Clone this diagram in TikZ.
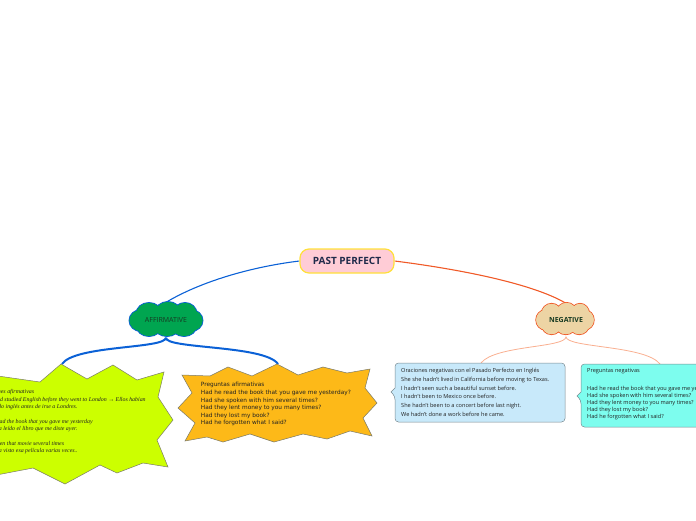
\documentclass[tikz,border=0pt]{standalone}
\usepackage{fontspec}
\setmainfont{Open Sans}
\newfontfamily\burstfont{DejaVu Sans}
\newfontfamily\italfont{Liberation Serif}
\pgfdeclarelayer{bg}
\pgfsetlayers{bg,main}
\definecolor{titlefill}{HTML}{FFCCD6}
\definecolor{titleborder}{HTML}{FFE03A}
\definecolor{titletext}{HTML}{1F2A4A}
\definecolor{affgreen}{HTML}{00A550}
\definecolor{affblue}{HTML}{0B61D6}
\definecolor{negtan}{HTML}{EDD4A4}
\definecolor{negorange}{HTML}{F05A28}
\definecolor{negthin}{HTML}{F9AF90}
\definecolor{limefill}{HTML}{CCFF00}
\definecolor{amberfill}{HTML}{FDB918}
\definecolor{lightbluefill}{HTML}{C8E9FA}
\definecolor{cyanfill}{HTML}{7DFDEE}
\definecolor{burstgray}{HTML}{7A7A6A}
\definecolor{boxgray}{HTML}{7A8A90}
\definecolor{textdark}{HTML}{222222}
\definecolor{cloudtext}{HTML}{173A22}
\tikzset{
  rootnode/.style={rectangle, rounded corners=9pt, minimum width=94pt, minimum height=24pt,
    inner sep=0pt, fill=titlefill, draw=titleborder, line width=1.2pt,
    font=\bfseries\fontsize{10}{12}\selectfont, text=titletext},
  cloudlabel/.style={rectangle, inner sep=0pt, text=cloudtext, font=\fontsize{7}{8}\selectfont},
  puffcloud/.pic={
    \foreach \px/\py/\rx/\ry in {-17/-6/13/11, 2/-7/13/11, 19/-6/12/11, -25/1/12/11, 25/1/12/11,
        -17/6/13/11, 1/7/13/10, 18/6/13/11}
      \path[pic actions] (\px,\py) ellipse[x radius=\rx, y radius=\ry];
    \foreach \px/\py/\rx/\ry in {-17/-6/13/11, 2/-7/13/11, 19/-6/12/11, -25/1/12/11, 25/1/12/11,
        -17/6/13/11, 1/7/13/10, 18/6/13/11}
      \path[pic actions, draw=none] (\px,\py) ellipse[x radius=\rx-0.5, y radius=\ry-0.5];
  },
  burst/.style={draw=burstgray, line width=0.5pt},
  notebox/.style={draw=boxgray, line width=0.5pt},
  affconn/.style={draw=affblue, line width=1.1pt},
  affbranch/.style={draw=affblue, line width=2pt},
  negconn/.style={draw=negorange, line width=1.1pt},
  negbranch/.style={draw=negthin, line width=0.8pt},
  bodytext/.style={anchor=north west, inner sep=0pt, align=left, text=textdark}
}
\begin{document}
\begin{tikzpicture}[x=1pt,y=-1pt]
\useasboundingbox (0,0) rectangle (696,520);
\clip (0,0) rectangle (696,520);

% central node
\node[rootnode] (root) at (347,261) {PAST PERFECT};

% main branch clouds
\pic[fill=affgreen, draw=affblue, line width=0.9pt] at (166,319.5) {puffcloud};
\node[cloudlabel, minimum width=74pt, minimum height=35pt] (aff) at (166,320) {AFFIRMATIVE};
\pic[fill=negtan, draw=negorange, line width=0.9pt, xscale=0.79, yscale=0.92] at (565,319) {puffcloud};
\node[cloudlabel, font=\fontsize{7}{8}\selectfont\bfseries, minimum width=58pt, minimum height=33pt]
  (neg) at (566,320) {NEGATIVE};

% starbursts
\path[burst, fill=limefill] (-30,372) -- (40,382) -- (61,364) -- (87,379) -- (113,365)
  -- (137,380) -- (164,372) -- (158,397) -- (173,420) -- (157,440) -- (168,467)
  -- (143,463) -- (117,473) -- (100,465) -- (65,484) -- (33,468) -- (-30,480) -- cycle;
\coordinate (limetop) at (62,364);
\path[burst, fill=amberfill] (182,375) -- (210,376) -- (228,367) -- (252,376) -- (277,364)
  -- (298,375) -- (323,367) -- (347,373) -- (370,369) -- (365,388) -- (377,403)
  -- (363,418) -- (372,436) -- (350,431) -- (327,439) -- (303,434) -- (274,442)
  -- (250,434) -- (223,442) -- (207,437) -- (185,441) -- (195,423) -- (178,408)
  -- (192,393) -- cycle;
\coordinate (ambertop) at (278,364);

\node[bodytext, font=\italfont\itshape\fontsize{5.9}{7.4}\selectfont] (limetext) at (-19,389.3)
{Oraciones afirmativas\\
They had studied English before they went to London → Ellos habían\\
estudiado inglés antes de irse a Londres.\\[7.4pt]
I had read the book that you gave me yesterday\\
Yo había leído el libro que me diste ayer.\\[7.4pt]
I had seen that movie several times\\
Yo había visto esa película varias veces..};

\node[bodytext, font=\burstfont\fontsize{5.8}{7.6}\selectfont] (ambertext) at (200.7,382.2)
{Preguntas afirmativas\\
Had he read the book that you gave me yesterday?\\
Had she spoken with him several times?\\
Had they lent money to you many times?\\
Had they lost my book?\\
Had he forgotten what I said?};

% negative boxes
\path[notebox, fill=lightbluefill] (395,388) [rounded corners=3.5pt] -- (395,363) -- (565,363)
  -- (565,422) -- (395,422) -- (395,396) [sharp corners] -- (391,392) -- cycle;
\coordinate (bluetop) at (481,363);
\path[notebox, fill=cyanfill] (581,392) [rounded corners=3.5pt] -- (581,364) -- (705,364)
  -- (705,427) -- (581,427) -- (581,400) [sharp corners] -- (577,396) -- cycle;
\coordinate (cyantop) at (660,364);

\node[bodytext, font=\fontsize{5.6}{8.7}\selectfont] (bluetext) at (401,368.3)
{Oraciones negativas con el Pasado Perfecto en Inglés\\
She she hadn't lived in California before moving to Texas.\\
I hadn't seen such a beautiful sunset before.\\
I hadn't been to Mexico once before.\\
She hadn't been to a concert before last night.\\
We hadn't done a work before he came.};

\node[bodytext, font=\fontsize{5.6}{7}\selectfont] (cyantext) at (587,368.3)
{Preguntas negativas\\[11.3pt]
Had he read the book that you gave me yesterday?\\
Had she spoken with him several times?\\
Had they lent money to you many times?\\
Had they lost my book?\\
Had he forgotten what I said?};

% connectors
\begin{pgfonlayer}{bg}
\draw[affconn] (root.west) .. controls (250,267) and (200,282) .. (aff.north);
\draw[negconn] (root.east) .. controls (450,268) and (530,282) .. (neg.north);
\draw[affbranch] (aff.south) .. controls (165,349) and (75,345) .. (limetop);
\draw[affbranch] (aff.south) .. controls (165,349) and (265,345) .. (ambertop);
\draw[negbranch] (neg.south) .. controls (566,348) and (495,345) .. (bluetop);
\draw[negbranch] (neg.south) .. controls (566,348) and (645,345) .. (cyantop);
\end{pgfonlayer}
\end{tikzpicture}
\end{document}
